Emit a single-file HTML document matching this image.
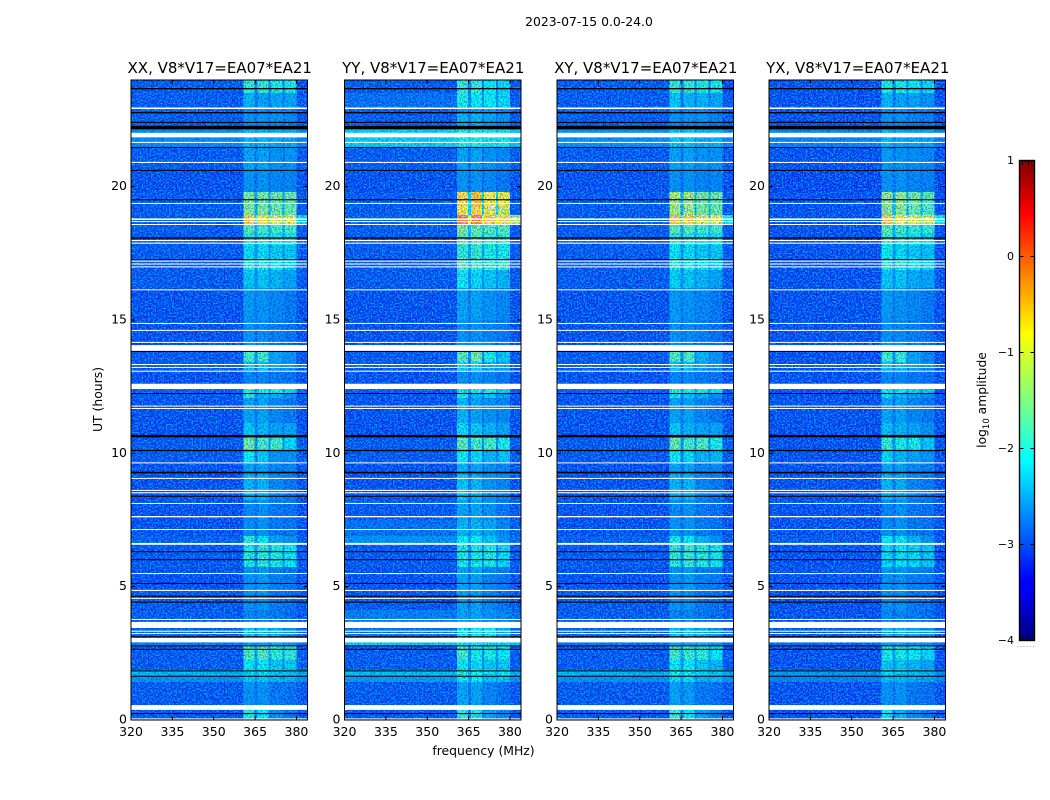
<!DOCTYPE html>
<html>
<head>
<meta charset="utf-8">
<title>2023-07-15 spectrogram</title>
<style>
html,body{margin:0;padding:0;background:#fff;width:1050px;height:800px;overflow:hidden}
svg{display:block}
text{font-family:"DejaVu Sans","Liberation Sans",sans-serif;fill:#000}
</style>
</head>
<body>
<svg id="fig" xmlns="http://www.w3.org/2000/svg" width="1050" height="800" viewBox="0 0 1050 800">
<defs>
<linearGradient id="jet" x1="0" y1="1" x2="0" y2="0">
<stop offset="0" stop-color="#00007f"/><stop offset="0.11" stop-color="#0000ff"/>
<stop offset="0.125" stop-color="#0000ff"/><stop offset="0.375" stop-color="#00ffff"/>
<stop offset="0.5" stop-color="#7fff7f"/><stop offset="0.64" stop-color="#ffff00"/>
<stop offset="0.89" stop-color="#ff0000"/><stop offset="1" stop-color="#7f0000"/>
</linearGradient>
<filter id="grain-dark" x="0" y="0" width="100%" height="100%" color-interpolation-filters="sRGB">
<feTurbulence type="fractalNoise" baseFrequency="0.62" numOctaves="1" seed="4"/>
<feColorMatrix type="matrix" values="0 0 0 0 0.78  0 0 0 0 0.62  0 0 0 0 0.78  4 0 0 0 -1.7"/>
</filter>
<filter id="grain-light" x="0" y="0" width="100%" height="100%" color-interpolation-filters="sRGB">
<feTurbulence type="fractalNoise" baseFrequency="0.62" numOctaves="1" seed="11"/>
<feColorMatrix type="matrix" values="0 0 0 0 0  0 0 0 0 0.62  0 0 0 0 1  4.5 0 0 0 -2.05"/>
</filter>
</defs>
<text x="589" y="26" font-size="12.4" text-anchor="middle">2023-07-15 0.0-24.0</text>
<text transform="translate(102,399.5) rotate(-90)" font-size="12.4" text-anchor="middle">UT (hours)</text>
<text x="483.5" y="755" font-size="12.4" text-anchor="middle">frequency (MHz)</text>
<text transform="translate(986,400) rotate(-90)" font-size="12.3" text-anchor="middle">log<tspan font-size="8.5" dy="3">10</tspan><tspan dy="-3"> amplitude</tspan></text>
<g id="panels"></g>
<g id="cbar">
<rect x="1019.5" y="160.5" width="15" height="480" fill="url(#jet)" stroke="#000" stroke-width="1.4"/>
<text x="1026" y="647" font-size="7" text-anchor="middle" letter-spacing="0.9" style="fill:#777">......</text>
</g>
</svg>
<script>
// ---- chart data ----
var polarisations = ['XX', 'YY', 'XY', 'YX'];
var baselineLabel = 'V8*V17=EA07*EA21';
var freqTicks = [320, 335, 350, 365, 380];
var hourTicks = [0, 5, 10, 15, 20];
var cbarTicks = [1, 0, -1, -2, -3, -4];
// frequency channels (MHz) and which row field each channel shows
var freqEdges = [320, 360.8, 364.8, 365.9, 369.9, 370.6, 374.9, 375.7, 380, 384];
var channelField = [0, 1, 5, 2, 5, 3, 5, 4, 6];
// time segments (hours), top to bottom
var hourEdges = [24,23.51,22.99,22.76,22.43,22.16,21.49,20.63,19.80,19.24,18.94,18.60,18.26,17.81,17.33,16.88,16.20,15.0,13.8,13.43,13.13,12.56,12.26,12.08,11.14,10.69,10.58,10.13,9.68,9.19,8.63,8.25,7.5,6.9,6.64,5.74,4.88,4.13,3.68,3.45,3.0,2.78,2.25,1.88,1.65,1.43,0.56,0.38,0];
// log10 amplitude per segment: [background, tone1, tone2, tone3, tone4, gap, right edge]
var ampXX = [
[-3.0,-1.9,-1.9,-2.0,-2.0,-2.7,-3.1],[-3.0,-2.4,-2.5,-2.5,-2.5,-2.8,-3.0],[-3.0,-2.7,-2.7,-2.7,-2.8,-2.9,-3.0],[-3.0,-2.6,-2.6,-2.6,-2.7,-2.8,-3.0],[-3.0,-2.7,-2.7,-2.7,-2.8,-2.9,-3.0],
[-2.65,-2.4,-2.4,-2.45,-2.45,-2.6,-2.7],[-3.0,-2.5,-2.5,-2.6,-2.6,-2.8,-3.0],[-3.05,-2.6,-2.6,-2.7,-2.7,-2.85,-3.05],[-3.0,-1.5,-1.55,-1.6,-1.6,-2.5,-3.0],[-3.0,-1.5,-1.5,-1.6,-1.6,-2.4,-3.0],
[-3.0,-0.7,-0.8,-1.0,-1.0,-1.7,-2.2],[-3.0,-1.7,-1.8,-1.8,-1.8,-2.4,-3.0],[-3.0,-2.0,-2.0,-2.1,-2.1,-2.5,-3.0],[-3.0,-2.2,-2.2,-2.3,-2.3,-2.6,-3.0],[-3.0,-2.0,-2.0,-2.1,-2.2,-2.5,-3.0],
[-3.0,-2.3,-2.3,-2.4,-2.5,-2.6,-3.0],[-3.05,-2.55,-2.6,-2.7,-2.8,-2.75,-3.05],[-3.05,-2.6,-2.65,-2.75,-2.85,-2.8,-3.05],[-3.0,-1.8,-1.8,-2.5,-2.6,-2.6,-3.0],[-3.0,-2.3,-2.3,-2.5,-2.6,-2.7,-3.0],
[-3.05,-2.7,-2.7,-2.8,-2.85,-2.85,-3.05],[-3.0,-2.0,-2.0,-2.0,-2.2,-2.5,-3.0],[-3.0,-1.9,-2.4,-2.4,-2.6,-2.7,-3.0],[-3.05,-2.5,-2.5,-2.7,-2.8,-2.8,-3.05],[-3.05,-2.3,-2.4,-2.5,-2.5,-2.7,-3.05],
[-3.0,-2.3,-2.4,-2.5,-2.5,-2.7,-3.0],[-3.0,-1.6,-1.8,-1.8,-2.2,-2.6,-3.0],[-3.0,-2.1,-2.3,-2.6,-2.6,-2.7,-3.0],[-3.05,-2.5,-2.5,-2.7,-2.7,-2.8,-3.05],[-3.05,-2.4,-2.4,-2.7,-2.8,-2.75,-3.05],
[-3.05,-2.4,-2.4,-2.7,-2.8,-2.75,-3.05],[-3.05,-2.7,-2.6,-2.8,-2.85,-2.85,-3.05],[-3.05,-2.65,-2.6,-2.8,-2.85,-2.85,-3.05],[-2.95,-1.9,-2.1,-2.5,-2.6,-2.6,-3.0],[-3.0,-2.0,-1.9,-2.0,-2.1,-2.6,-3.0],
[-3.05,-2.6,-2.55,-2.75,-2.8,-2.8,-3.05],[-3.0,-2.6,-2.6,-2.8,-2.85,-2.8,-3.0],[-3.0,-2.7,-2.7,-2.8,-2.9,-2.85,-3.0],[-3.0,-2.7,-2.7,-2.8,-2.9,-2.85,-3.0],[-2.95,-2.3,-2.3,-2.4,-2.6,-2.7,-2.95],
[-2.75,-2.5,-2.5,-2.5,-2.6,-2.65,-2.8],[-3.0,-1.8,-1.7,-1.9,-1.9,-2.5,-3.0],[-3.0,-2.1,-2.1,-2.3,-2.3,-2.6,-3.0],[-2.4,-2.2,-2.2,-2.3,-2.3,-2.4,-2.45],[-2.6,-2.3,-2.3,-2.4,-2.4,-2.5,-2.6],
[-3.0,-2.6,-2.6,-2.8,-2.85,-2.8,-3.0],[-3.0,-2.4,-2.4,-2.6,-2.7,-2.7,-3.0],[-3.0,-2.0,-2.1,-2.6,-2.8,-2.7,-3.0]];
var ampYY = [
[-3.0,-1.9,-1.9,-2.1,-2.2,-2.7,-3.0],[-2.85,-2.0,-2.1,-2.1,-2.2,-2.6,-3.0],[-3.0,-2.6,-2.6,-2.6,-2.7,-2.85,-3.0],[-3.0,-2.4,-2.4,-2.5,-2.6,-2.75,-3.0],[-3.0,-2.5,-2.5,-2.6,-2.7,-2.8,-3.0],
[-2.25,-2.0,-2.0,-2.1,-2.1,-2.2,-2.3],[-3.0,-2.5,-2.5,-2.6,-2.7,-2.8,-3.0],[-3.05,-2.6,-2.6,-2.7,-2.8,-2.85,-3.05],[-3.0,-0.8,-0.65,-0.9,-1.0,-2.2,-3.0],[-3.0,-0.9,-0.8,-1.0,-1.2,-2.2,-3.0],
[-2.95,-0.25,-0.3,-0.7,-0.8,-0.9,-1.2],[-3.0,-1.5,-1.6,-1.7,-1.7,-2.3,-3.0],[-3.0,-1.7,-1.7,-1.9,-1.9,-2.4,-3.0],[-3.0,-1.9,-1.9,-2.0,-2.0,-2.5,-3.0],[-3.0,-1.7,-1.8,-1.9,-1.9,-2.4,-3.0],
[-3.0,-2.1,-2.2,-2.3,-2.4,-2.6,-3.0],[-3.05,-2.5,-2.5,-2.6,-2.7,-2.75,-3.05],[-3.05,-2.6,-2.6,-2.7,-2.8,-2.8,-3.05],[-3.0,-1.7,-1.6,-2.0,-2.3,-2.6,-3.0],[-3.0,-2.2,-2.2,-2.4,-2.5,-2.7,-3.0],
[-3.05,-2.6,-2.6,-2.7,-2.8,-2.85,-3.05],[-3.0,-2.0,-2.0,-2.0,-2.2,-2.5,-3.0],[-3.0,-2.0,-2.3,-2.3,-2.5,-2.7,-3.0],[-3.05,-2.4,-2.5,-2.6,-2.7,-2.8,-3.05],[-3.05,-2.2,-2.3,-2.4,-2.5,-2.7,-3.05],
[-3.0,-2.2,-2.3,-2.4,-2.5,-2.7,-3.0],[-3.0,-1.7,-1.8,-1.8,-2.0,-2.6,-3.0],[-3.0,-2.1,-2.2,-2.4,-2.3,-2.7,-3.0],[-3.05,-2.4,-2.5,-2.6,-2.7,-2.8,-3.05],[-3.05,-2.3,-2.4,-2.6,-2.7,-2.75,-3.05],
[-3.05,-2.3,-2.4,-2.6,-2.7,-2.75,-3.05],[-3.0,-2.5,-2.5,-2.6,-2.8,-2.8,-3.0],[-2.85,-2.4,-2.4,-2.5,-2.7,-2.7,-3.0],[-2.6,-2.1,-2.1,-2.3,-2.6,-2.5,-2.85],[-3.0,-2.0,-2.0,-2.0,-2.2,-2.6,-3.0],
[-3.05,-2.5,-2.5,-2.7,-2.8,-2.8,-3.05],[-3.0,-2.5,-2.5,-2.7,-2.85,-2.8,-3.0],[-2.75,-2.5,-2.5,-2.6,-2.7,-2.7,-2.85],[-2.6,-2.5,-2.5,-2.6,-2.7,-2.7,-2.7],[-2.85,-2.1,-2.1,-2.1,-2.4,-2.6,-2.9],
[-2.25,-2.1,-2.1,-2.2,-2.2,-2.3,-2.3],[-3.0,-1.8,-2.0,-2.0,-2.1,-2.6,-3.0],[-3.0,-2.1,-2.2,-2.3,-2.3,-2.6,-3.0],[-2.35,-1.9,-2.0,-2.1,-2.1,-2.4,-2.4],[-2.55,-2.1,-2.1,-2.3,-2.3,-2.5,-2.6],
[-3.0,-2.5,-2.5,-2.7,-2.85,-2.8,-3.0],[-3.0,-2.3,-2.3,-2.5,-2.7,-2.7,-3.0],[-3.0,-1.9,-2.0,-2.5,-2.7,-2.7,-3.0]];
var ampXY = [
[-3.0,-1.9,-1.9,-2.0,-2.0,-2.7,-3.1],[-3.0,-2.3,-2.4,-2.4,-2.5,-2.8,-3.0],[-3.0,-2.7,-2.7,-2.7,-2.8,-2.9,-3.0],[-3.0,-2.6,-2.6,-2.6,-2.7,-2.8,-3.0],[-3.0,-2.7,-2.7,-2.7,-2.8,-2.9,-3.0],
[-2.6,-2.3,-2.3,-2.4,-2.4,-2.55,-2.65],[-3.0,-2.5,-2.5,-2.6,-2.6,-2.8,-3.0],[-3.05,-2.6,-2.6,-2.7,-2.7,-2.85,-3.05],[-3.0,-1.3,-1.3,-1.55,-1.6,-2.4,-3.0],[-3.0,-1.35,-1.35,-1.55,-1.6,-2.4,-3.0],
[-3.0,-0.65,-0.75,-1.0,-1.0,-1.6,-2.1],[-3.0,-1.7,-1.7,-1.8,-1.8,-2.4,-3.0],[-3.0,-1.95,-2.0,-2.1,-2.1,-2.5,-3.0],[-3.0,-2.15,-2.2,-2.3,-2.3,-2.6,-3.0],[-3.0,-1.95,-2.0,-2.1,-2.2,-2.5,-3.0],
[-3.0,-2.25,-2.3,-2.4,-2.5,-2.6,-3.0],[-3.05,-2.55,-2.6,-2.7,-2.8,-2.75,-3.05],[-3.05,-2.6,-2.65,-2.75,-2.85,-2.8,-3.05],[-3.0,-1.75,-1.75,-2.4,-2.6,-2.6,-3.0],[-3.0,-2.3,-2.3,-2.5,-2.6,-2.7,-3.0],
[-3.05,-2.7,-2.7,-2.8,-2.85,-2.85,-3.05],[-3.0,-2.0,-2.0,-2.0,-2.2,-2.5,-3.0],[-3.0,-2.0,-2.3,-2.4,-2.6,-2.7,-3.0],[-3.05,-2.5,-2.5,-2.7,-2.8,-2.8,-3.05],[-3.05,-2.3,-2.4,-2.5,-2.5,-2.7,-3.05],
[-3.0,-2.3,-2.4,-2.5,-2.5,-2.7,-3.0],[-3.0,-1.65,-1.8,-1.75,-2.0,-2.6,-3.0],[-3.0,-2.1,-2.2,-2.4,-2.4,-2.7,-3.0],[-3.05,-2.5,-2.5,-2.7,-2.7,-2.8,-3.05],[-3.05,-2.4,-2.4,-2.7,-2.8,-2.75,-3.05],
[-3.05,-2.4,-2.4,-2.7,-2.8,-2.75,-3.05],[-3.05,-2.65,-2.6,-2.8,-2.85,-2.85,-3.05],[-3.05,-2.6,-2.6,-2.8,-2.85,-2.85,-3.05],[-2.95,-2.0,-2.1,-2.4,-2.6,-2.6,-3.0],[-3.0,-1.9,-1.85,-1.95,-2.05,-2.6,-3.0],
[-3.05,-2.6,-2.55,-2.75,-2.8,-2.8,-3.05],[-3.0,-2.6,-2.6,-2.8,-2.85,-2.8,-3.0],[-3.0,-2.7,-2.7,-2.8,-2.9,-2.85,-3.0],[-3.0,-2.7,-2.7,-2.8,-2.9,-2.85,-3.0],[-2.95,-2.3,-2.3,-2.4,-2.6,-2.7,-2.95],
[-2.8,-2.5,-2.5,-2.5,-2.6,-2.65,-2.85],[-3.0,-1.8,-1.85,-1.9,-2.1,-2.5,-3.0],[-3.0,-2.1,-2.1,-2.3,-2.4,-2.6,-3.0],[-2.4,-2.0,-2.1,-2.2,-2.3,-2.4,-2.45],[-2.6,-2.2,-2.2,-2.4,-2.4,-2.5,-2.6],
[-3.0,-2.5,-2.55,-2.8,-2.85,-2.8,-3.0],[-3.0,-2.4,-2.4,-2.6,-2.7,-2.7,-3.0],[-3.0,-1.9,-2.1,-2.5,-2.7,-2.7,-3.0]];
var ampYX = [
[-3.05,-2.0,-2.0,-2.1,-2.2,-2.7,-3.1],[-3.05,-2.4,-2.5,-2.5,-2.6,-2.8,-3.05],[-3.05,-2.7,-2.7,-2.8,-2.85,-2.9,-3.05],[-3.05,-2.6,-2.6,-2.7,-2.75,-2.85,-3.05],[-3.05,-2.7,-2.7,-2.75,-2.8,-2.9,-3.05],
[-2.7,-2.4,-2.45,-2.5,-2.5,-2.65,-2.75],[-3.05,-2.55,-2.6,-2.65,-2.7,-2.8,-3.05],[-3.1,-2.6,-2.6,-2.7,-2.75,-2.85,-3.1],[-3.05,-1.4,-1.4,-1.55,-1.7,-2.4,-3.05],[-3.05,-1.45,-1.45,-1.6,-1.75,-2.4,-3.05],
[-3.05,-0.65,-0.85,-1.0,-1.05,-1.6,-2.1],[-3.05,-1.7,-1.8,-1.85,-1.9,-2.4,-3.05],[-3.05,-1.85,-2.0,-2.1,-2.15,-2.5,-3.05],[-3.05,-2.1,-2.2,-2.3,-2.35,-2.6,-3.05],[-3.05,-1.95,-2.0,-2.1,-2.2,-2.5,-3.05],
[-3.05,-2.3,-2.3,-2.45,-2.5,-2.6,-3.05],[-3.05,-2.55,-2.6,-2.7,-2.8,-2.75,-3.05],[-3.05,-2.6,-2.65,-2.75,-2.85,-2.8,-3.05],[-3.05,-1.85,-1.85,-2.5,-2.7,-2.6,-3.05],[-3.05,-2.3,-2.3,-2.5,-2.6,-2.7,-3.05],
[-3.05,-2.7,-2.7,-2.8,-2.85,-2.85,-3.05],[-3.05,-2.1,-2.1,-2.2,-2.3,-2.5,-3.05],[-3.05,-2.1,-2.4,-2.5,-2.6,-2.7,-3.05],[-3.05,-2.5,-2.5,-2.7,-2.8,-2.8,-3.05],[-3.05,-2.35,-2.4,-2.5,-2.6,-2.7,-3.05],
[-3.05,-2.35,-2.4,-2.5,-2.6,-2.7,-3.05],[-3.05,-1.9,-2.0,-2.0,-2.3,-2.6,-3.05],[-3.05,-2.2,-2.4,-2.5,-2.6,-2.7,-3.05],[-3.05,-2.5,-2.5,-2.7,-2.75,-2.8,-3.05],[-3.05,-2.4,-2.45,-2.7,-2.8,-2.75,-3.05],
[-3.05,-2.4,-2.45,-2.7,-2.8,-2.75,-3.05],[-3.05,-2.7,-2.6,-2.8,-2.85,-2.85,-3.05],[-3.05,-2.65,-2.6,-2.8,-2.85,-2.85,-3.05],[-3.0,-2.1,-2.1,-2.4,-2.6,-2.6,-3.05],[-3.05,-2.2,-2.15,-2.2,-2.3,-2.6,-3.05],
[-3.05,-2.6,-2.6,-2.75,-2.8,-2.8,-3.05],[-3.05,-2.6,-2.6,-2.8,-2.85,-2.8,-3.05],[-3.05,-2.7,-2.7,-2.8,-2.9,-2.85,-3.05],[-3.05,-2.7,-2.7,-2.8,-2.9,-2.85,-3.05],[-3.0,-2.4,-2.4,-2.5,-2.6,-2.7,-3.0],
[-2.85,-2.5,-2.5,-2.6,-2.65,-2.7,-2.9],[-3.05,-2.0,-2.0,-2.1,-2.2,-2.5,-3.05],[-3.05,-2.3,-2.3,-2.4,-2.5,-2.6,-3.05],[-2.55,-2.2,-2.25,-2.35,-2.4,-2.45,-2.6],[-2.7,-2.35,-2.35,-2.45,-2.5,-2.55,-2.7],
[-3.05,-2.6,-2.6,-2.8,-2.85,-2.8,-3.05],[-3.05,-2.5,-2.5,-2.7,-2.75,-2.7,-3.05],[-3.05,-2.1,-2.4,-2.65,-2.8,-2.7,-3.05]];
var panelAmps = [ampXX, ampYY, ampXY, ampYX];
// flagged (blank white) and zero-amplitude (black) time ranges, [upper hour, lower hour]
var flaggedHours = [[22.97,22.91],[22.02,21.85],[21.68,21.65],[20.93,20.89],[19.39,19.36],[18.81,18.75],[18.71,18.68],[18.60,18.57],[18.0,17.96],[17.90,17.86],[17.23,17.19],[17.12,17.08],[17.01,16.98],[16.15,16.13],[14.89,14.86],[14.63,14.60],[14.18,14.15],[14.06,13.84],[13.35,13.31],[13.24,13.20],[13.10,13.06],[12.61,12.41],[11.79,11.76],[11.70,11.67],[9.66,9.64],[9.08,9.05],[8.63,8.59],[8.54,8.50],[8.14,8.11],[7.65,7.60],[7.16,7.13],[6.64,6.57],[5.51,5.49],[4.88,4.84],[4.58,4.55],[3.79,3.75],[3.68,3.45],[3.35,3.31],[3.26,3.23],[3.08,2.91],[0.56,0.38],[0.06,0.03]];
var zeroHours = [[23.70,23.65],[22.80,22.75],[22.43,22.39],[22.28,22.15],[21.49,21.46],[20.63,20.60],[19.53,19.49],[18.10,18.05],[17.28,17.25],[13.84,13.81],[12.26,12.24],[10.69,10.60],[10.13,10.08],[9.31,9.25],[8.41,8.37],[6.33,6.30],[6.03,6.00],[5.14,5.11],[4.66,4.62],[4.44,4.40],[3.14,3.10],[2.80,2.78],[2.67,2.65],[1.86,1.84],[1.66,1.64],[0.26,0.24]];

// ---- layout ----
var panelLeft = [131, 344.5, 557, 769];
var panelWidth = 176.5, panelTop = 80, panelHeight = 640;
var freqMin = 320, freqMax = 384, hourMax = 24;
var NS = 'http://www.w3.org/2000/svg';

function xScale(i, f) { return panelLeft[i] + (f - freqMin) / (freqMax - freqMin) * panelWidth; }
function yScale(h) { return panelTop + (hourMax - h) / hourMax * panelHeight; }
function jet(v) {
  var t = Math.max(0, Math.min(1, (v + 4) / 5));
  function seg(a) { return Math.round(255 * Math.max(0, Math.min(1, a))); }
  var r = seg(Math.min(4 * t - 1.5, -4 * t + 4.5));
  var g = seg(Math.min(4 * t - 0.5, -4 * t + 3.5));
  var b = seg(Math.min(4 * t + 0.5, -4 * t + 2.5));
  return 'rgb(' + r + ',' + g + ',' + b + ')';
}
function el(tag, attrs, parent) {
  var n = document.createElementNS(NS, tag);
  for (var k in attrs) n.setAttribute(k, attrs[k]);
  parent.appendChild(n);
  return n;
}

var panelsG = document.getElementById('panels');
polarisations.forEach(function (pol, i) {
  var L = panelLeft[i], R = L + panelWidth;
  var g = el('g', {}, panelsG);
  
  
  g.setAttribute('style', 'isolation:isolate');

  var title = el('text', { x: L + panelWidth / 2 + 0.5, y: 73, 'font-size': 15, 'text-anchor': 'middle' }, g);
  
  
  title.textContent = pol + ', ' + baselineLabel;

  var cells = el('g', { 'shape-rendering': 'crispEdges' }, g);
  
  
  panelAmps[i].forEach(function (row, r) {
    var y0 = yScale(hourEdges[r]), y1 = yScale(hourEdges[r + 1]);
    channelField.forEach(function (field, c) {
      var x0 = xScale(i, freqEdges[c]), x1 = xScale(i, freqEdges[c + 1]);
      var cell = el('rect', { x: x0, y: y0, width: x1 - x0 + 0.5, height: y1 - y0 + 0.5, fill: jet(row[field]) }, cells);
      
      
    });
  });

  var g1 = el('rect', { x: L, y: panelTop, width: panelWidth, height: panelHeight, fill: '#000', filter: 'url(#grain-dark)', style: 'mix-blend-mode:multiply' }, g);
  
  
  var g2 = el('rect', { x: L, y: panelTop, width: panelWidth, height: panelHeight, fill: '#000', filter: 'url(#grain-light)', style: 'mix-blend-mode:lighten' }, g);
  
  

  flaggedHours.forEach(function (b) {
    var y0 = yScale(b[0]), y1 = yScale(b[1]);
    var s = el('rect', { x: L, y: y0, width: panelWidth, height: Math.max(y1 - y0, 1), fill: '#fff' }, g);
    
    
  });
  zeroHours.forEach(function (b) {
    var y0 = yScale(b[0]), y1 = yScale(b[1]);
    var s = el('rect', { x: L, y: y0, width: panelWidth, height: Math.max(y1 - y0, 1), fill: '#000' }, g);
    
    
  });

  var frame = el('rect', { x: L, y: panelTop, width: panelWidth, height: panelHeight, fill: 'none', stroke: '#000', 'stroke-width': 1 }, g);
  
  

  freqTicks.forEach(function (f) {
    var x = xScale(i, f);
    var t1 = el('line', { x1: x, x2: x, y1: panelTop + panelHeight, y2: panelTop + panelHeight - 4, stroke: '#000' }, g);
    
    
    var t2 = el('line', { x1: x, x2: x, y1: panelTop, y2: panelTop + 4, stroke: '#000' }, g);
    
    
    var lb = el('text', { x: x, y: 736, 'font-size': 12.5, 'text-anchor': 'middle' }, g);
    
    
    lb.textContent = f;
  });
  hourTicks.forEach(function (h) {
    var y = yScale(h);
    var t1 = el('line', { x1: L, x2: L + 4, y1: y, y2: y, stroke: '#000' }, g);
    
    
    var t2 = el('line', { x1: R, x2: R - 4, y1: y, y2: y, stroke: '#000' }, g);
    
    
    var lb = el('text', { x: L - 4, y: y + 3.5, 'font-size': 12.5, 'text-anchor': 'end' }, g);
    
    
    lb.textContent = h;
  });
});

var cbarG = document.getElementById('cbar');
function cbarY(v) { return 160 + (1 - v) / 5 * 480; }
cbarTicks.forEach(function (v) {
  var y = cbarY(v) + 0.5;
  var a = el('line', { x1: 1019.5, x2: 1023.5, y1: y, y2: y, stroke: '#000' }, cbarG);
  
  
  var b = el('line', { x1: 1034.5, x2: 1030.5, y1: y, y2: y, stroke: '#000' }, cbarG);
  
  
  var lb = el('text', { x: 1014, y: y + 3.5, 'font-size': 11, 'text-anchor': 'end' }, cbarG);
  
  
  lb.textContent = v < 0 ? '\u2212' + Math.abs(v) : String(v);
});
var minorSlots = [0, 1, 2, 3, 4, 5];
minorSlots.forEach(function (s) {
  var x = 1019.5 + s * 3;
  var a = el('line', { x1: x, x2: x, y1: 160.5, y2: 164.5, stroke: '#000' }, cbarG);
  
  
  var b = el('line', { x1: x, x2: x, y1: 640.5, y2: 636.5, stroke: '#000' }, cbarG);
  
  
});
</script>
</body>
</html>
